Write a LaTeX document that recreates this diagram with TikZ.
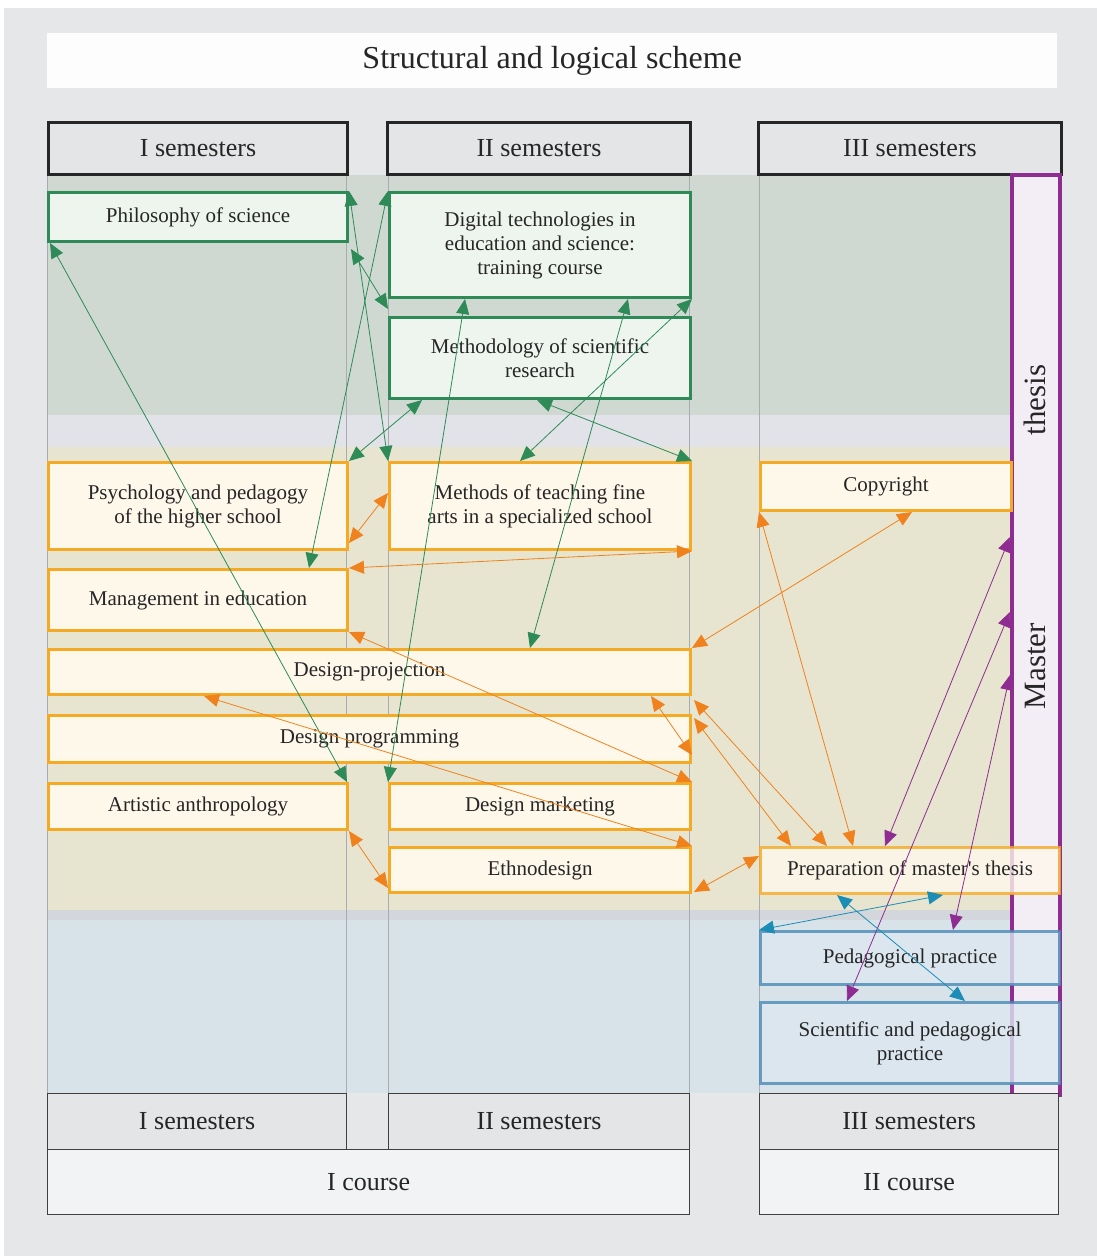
\documentclass[tikz,border=0pt]{standalone}
\usepackage{fontspec}
\setmainfont{Liberation Serif}
\newfontfamily\plainserif{Liberation Serif}
\usetikzlibrary{arrows.meta,calc}
\definecolor{bgc}{HTML}{E6E7E9}
\definecolor{titlefill}{HTML}{FDFDFD}
\definecolor{headfill}{HTML}{E4E5E7}
\definecolor{coursefill}{HTML}{F2F3F5}
\definecolor{gband}{HTML}{CFD9D2}
\definecolor{gapband}{HTML}{E1E3E8}
\definecolor{thinband}{HTML}{D3D6DB}
\definecolor{oband}{HTML}{E7E4CF}
\definecolor{bband}{HTML}{D7E2E9}
\definecolor{mfill}{HTML}{F3EDF6}
\definecolor{mborder}{HTML}{8E2C91}
\definecolor{gfill}{HTML}{EEF5EE}
\definecolor{gborder}{HTML}{2E8B57}
\definecolor{ofill}{HTML}{FEF8EB}
\definecolor{oborder}{HTML}{F5AA25}
\definecolor{bfill}{HTML}{DCE8F0}
\definecolor{bborder}{HTML}{4B8AB6}
\definecolor{oarrow}{HTML}{F0821E}
\definecolor{tarrow}{HTML}{1C8DB5}
\definecolor{colline}{HTML}{A9ABB3}
\definecolor{txt}{HTML}{262626}
\tikzset{
  box/.style={rectangle, inner sep=2pt, align=center, anchor=north west,
    font=\fontsize{21}{24}\selectfont, text=txt},
  gbox/.style={box, draw=gborder, fill=gfill, line width=3pt},
  obox/.style={box, draw=oborder, fill=ofill, line width=3pt},
  obox2/.style={box, draw=oborder, fill=ofill, line width=3pt, opacity=0.8, text opacity=1},
  bbox/.style={box, draw=bborder, fill=bfill, line width=3pt, opacity=0.8, text opacity=1},
  headbox/.style={rectangle, anchor=north west, draw=black!85, fill=headfill,
    line width=3pt, font=\fontsize{26}{30}\selectfont, text=txt},
  sembox/.style={rectangle, anchor=north west, draw=black!75, fill=headfill,
    line width=1.2pt, font=\fontsize{26}{30}\selectfont, text=txt},
  coursebox/.style={rectangle, anchor=north west, draw=black!75, fill=coursefill,
    line width=1.2pt, font=\fontsize{26}{30}\selectfont, text=txt},
  conn/.style={line width=0.8pt, <->},
  garr/.style={conn, color=gborder},
  oarr/.style={conn, color=oarrow},
  parr/.style={conn, color=mborder},
  tarr/.style={conn, color=tarrow},
  >={Triangle[length=15pt,width=13pt]}
}
\begin{document}
\begin{tikzpicture}[x=1pt,y=-1pt]
\useasboundingbox (0,0) rectangle (1097,1256);
\fill[white] (0,0) rectangle (1097,1256);
\fill[bgc] (4,8) rectangle (1097,1256);
% title
\node[rectangle, anchor=north west, fill=titlefill, minimum width=1010, minimum height=55,
  font=\fontsize{32}{36}\selectfont, text=txt] (title) at (47,33) {Structural and logical scheme};
% bands
\fill[gband] (47,175) rectangle (1010,415);
\fill[gapband] (47,415) rectangle (1010,447);
\fill[oband] (47,447) rectangle (1010,910);
\fill[thinband] (47,910) rectangle (1010,920);
\fill[bband] (47,920) rectangle (1010,1093);
% column lines
\foreach \xx in {47,346,388,689,759}
  \draw[colline, line width=0.8pt] (\xx,173) -- (\xx,1093);
% headers
\node[headbox, minimum width=299, minimum height=52] (hs1) at (47,121) {I semesters};
\node[headbox, minimum width=303, minimum height=52] (hs2) at (386,121) {II semesters};
\node[headbox, minimum width=303, minimum height=52] (hs3) at (757,121) {III semesters};
% master bar
\node[rectangle, anchor=north west, draw=mborder, fill=mfill, line width=3.5pt,
  minimum width=48, minimum height=920] (master) at (1010,173) {};
\node[rotate=90, font=\fontsize{31}{36}\selectfont, text=txt] (mtA) at (1035,666) {Master};
\node[rotate=90, font=\fontsize{31}{36}\selectfont, text=txt] (mtB) at (1035,400) {thesis};
% green nodes
\node[gbox, minimum width=299, minimum height=49] (phil) at (47,191) {Philosophy of science};
\node[gbox, minimum width=301, minimum height=105] (dig) at (388,191) {Digital technologies in\\education and science:\\training course};
\node[gbox, minimum width=301, minimum height=81] (metho) at (388,316) {Methodology of scientific\\research};
% orange nodes
\node[obox, minimum width=299, minimum height=87] (psych) at (47,461) {Psychology and pedagogy\\of the higher school};
\node[obox, minimum width=301, minimum height=87] (methods) at (388,461) {Methods of teaching fine\\arts in a specialized school};
\node[obox, minimum width=251, minimum height=48] (copy) at (759,461) {Copyright};
\node[obox, minimum width=299, minimum height=61] (mgmt) at (47,568) {Management in education};
\node[obox, minimum width=642, minimum height=45] (dproj) at (47,648) {Design-projection};
\node[obox, minimum width=642, minimum height=47] (dprog) at (47,714) {Design programming};
\node[obox, minimum width=299, minimum height=46] (art) at (47,782) {Artistic anthropology};
\node[obox, minimum width=301, minimum height=46] (dmark) at (388,782) {Design marketing};
\node[obox, minimum width=301, minimum height=45] (ethno) at (388,846) {Ethnodesign};
\node[obox2, minimum width=299, minimum height=46] (prep) at (759,846) {Preparation of master{\plainserif'}s thesis};
% blue nodes
\node[bbox, minimum width=299, minimum height=53] (ped) at (759,930) {Pedagogical practice};
\node[bbox, minimum width=299, minimum height=81] (sci) at (759,1001) {Scientific and pedagogical\\practice};
% bottom
\node[sembox, minimum width=299, minimum height=56] (bs1) at (47,1093) {I semesters};
\node[sembox, minimum width=301, minimum height=56] (bs2) at (388,1093) {II semesters};
\node[sembox, minimum width=299, minimum height=56] (bs3) at (759,1093) {III semesters};
\node[coursebox, minimum width=642, minimum height=65] (c1) at (47,1149) {I course};
\node[coursebox, minimum width=299, minimum height=65] (c2) at (759,1149) {II course};
% green connectors
\draw[garr] ($(phil.south west)+(3,0)$) -- ($(art.north east)+(-2,0)$);
\draw[garr] (phil.north east) -- (methods.north west);
\draw[garr] ($(phil.south east)+(2,6)$) -- ($(dig.south west)+(0,10)$);
\draw[garr] (dig.north west) -- ($(mgmt.north east)+(-40,0)$);
\draw[garr] ($(dig.south west)+(77,0)$) -- (dmark.north west);
\draw[garr] ($(dig.south west)+(240,0)$) -- ($(dproj.north west)+(483,0)$);
\draw[garr] (dig.south east) -- ($(methods.north west)+(132,0)$);
\draw[garr] ($(metho.south west)+(34,0)$) -- (psych.north east);
\draw[garr] ($(metho.south west)+(149,0)$) -- (methods.north east);
% orange connectors
\draw[oarr] ($(psych.south east)+(0,-8)$) -- ($(methods.north west)+(0,32)$);
\draw[oarr] (mgmt.north east) -- (methods.south east);
\draw[oarr] (mgmt.south east) -- (dmark.north east);
\draw[oarr] ($(copy.south west)+(153,0)$) -- (dproj.north east);
\draw[oarr] (copy.south west) -- ($(prep.north west)+(94,0)$);
\draw[oarr] ($(dproj.south west)+(157,0)$) -- (ethno.north east);
\draw[oarr] ($(dproj.south west)+(604,0)$) -- ($(dprog.south east)+(0,-9)$);
\draw[oarr] ($(dproj.south east)+(2,4)$) -- ($(prep.north west)+(68,0)$);
\draw[oarr] ($(dprog.north east)+(2,4)$) -- ($(prep.north west)+(32,0)$);
\draw[oarr] ($(ethno.south east)+(2,-2)$) -- ($(prep.north west)+(0,10)$);
\draw[oarr] (art.south east) -- ($(ethno.south west)+(0,-6)$);
% purple connectors
\draw[parr] ($(master.north west)+(0,364)$) -- ($(prep.north west)+(126,0)$);
\draw[parr] ($(master.north west)+(0,439)$) -- ($(sci.north west)+(88,0)$);
\draw[parr] ($(master.north west)+(0,502)$) -- ($(ped.north west)+(194,0)$);
% teal connectors
\draw[tarr] ($(prep.south west)+(184,0)$) -- (ped.north west);
\draw[tarr] ($(prep.south west)+(78,0)$) -- ($(sci.north west)+(206,0)$);
\end{tikzpicture}
\end{document}
